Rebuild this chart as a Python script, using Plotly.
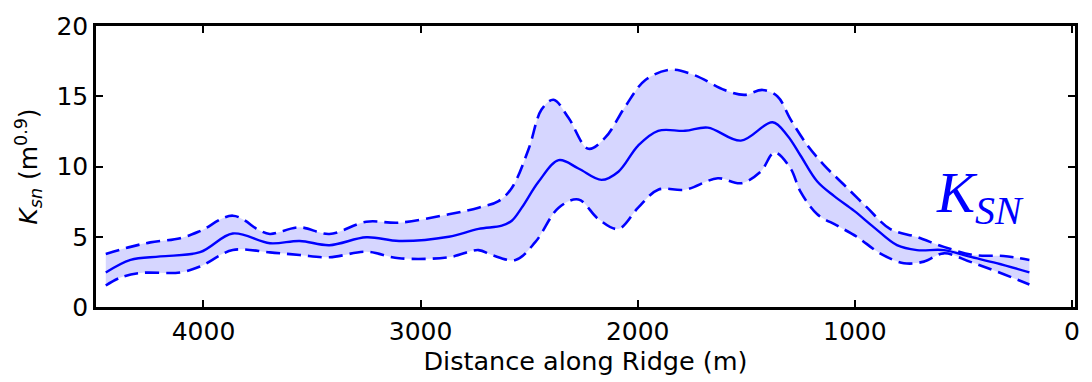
import plotly.graph_objects as go

# Mean K_sn profile
dist_mean = [4450, 4336, 4199, 4016, 3865, 3694, 3557, 3420, 3250, 3099, 2870, 2733, 2626,
             2580, 2534, 2456, 2364, 2273, 2167, 2089, 1998, 1906, 1782, 1677, 1525, 1379, 1310,
             1251, 1173, 1095, 1003, 912, 806, 714, 590, 471, 347, 196]
ksn_mean = [2.45, 3.35, 3.6, 3.9, 5.23, 4.54, 4.7, 4.4, 4.96, 4.7, 5.0, 5.56, 5.79,
            6.14, 7.07, 8.93, 10.45, 9.86, 9.05, 9.63, 11.49, 12.54, 12.54, 12.77, 11.84, 13.15, 12.19,
            10.8, 8.93, 7.89, 6.84, 5.67, 4.4, 4.05, 4.05, 3.58, 3.12, 2.46]

# Upper bound
dist_upper = [4450, 4336, 4245, 4107, 4016, 3865, 3741, 3694, 3557, 3420, 3250, 3099, 2870,
              2733, 2641, 2580, 2502, 2443, 2388, 2319, 2227, 2149, 2057, 1966, 1847, 1737,
              1600, 1508, 1425, 1356, 1296, 1218, 1142, 1050, 943, 838, 714, 590, 453, 315, 196]
ksn_upper = [3.77, 4.28, 4.6, 4.9, 5.4, 6.5, 5.44, 5.2, 5.67, 5.2, 6.07, 6.0, 6.6,
             7.07, 7.54, 8.47, 11.26, 14.05, 14.75, 13.47, 11.26, 12.07, 14.28, 16.14, 16.89, 16.49,
             15.44, 15.1, 15.45, 14.98, 13.35, 11.5, 10.1, 8.7, 7.07, 5.56, 4.98, 4.28, 3.7, 3.63, 3.35]

# Lower bound
dist_lower = [4450, 4382, 4290, 4107, 4016, 3865, 3694, 3557, 3420, 3250, 3099, 2870, 2733,
              2673, 2563, 2471, 2364, 2273, 2181, 2089, 1998, 1906, 1782, 1631, 1525, 1434,
              1370, 1296, 1251, 1173, 1081, 989, 884, 774, 682, 590, 471, 347, 196]
ksn_lower = [1.53, 2.1, 2.42, 2.46, 2.88, 4.05, 3.89, 3.7, 3.54, 3.93, 3.47, 3.54, 4.05,
             3.7, 3.35, 4.63, 7.07, 7.65, 6.26, 5.56, 7.07, 8.35, 8.35, 9.16, 8.81, 9.63,
             11.0, 9.86, 8.23, 6.6, 5.79, 4.98, 3.82, 3.12, 3.23, 3.82, 3.23, 2.53, 1.6]

x_ticks = [4000, 3000, 2000, 1000, 0]
y_ticks = [0, 5, 10, 15, 20]

BLUE = "#0000ff"
FILL = "rgba(0,0,255,0.16)"

fig = go.Figure()
fig.add_trace(go.Scatter(x=dist_lower, y=ksn_lower, mode="lines",
                         line=dict(color="rgba(0,0,0,0)", width=0, shape="spline"),
                         hoverinfo="skip", showlegend=False))
fig.add_trace(go.Scatter(x=dist_upper, y=ksn_upper, mode="lines", fill="tonexty",
                         fillcolor=FILL,
                         line=dict(color="rgba(0,0,0,0)", width=0, shape="spline"),
                         hoverinfo="skip", showlegend=False))
fig.add_trace(go.Scatter(x=dist_upper, y=ksn_upper, mode="lines",
                         line=dict(color=BLUE, width=2.6, dash="14px,7px", shape="spline"),
                         showlegend=False))
fig.add_trace(go.Scatter(x=dist_lower, y=ksn_lower, mode="lines",
                         line=dict(color=BLUE, width=2.6, dash="14px,7px", shape="spline"),
                         showlegend=False))
fig.add_trace(go.Scatter(x=dist_mean, y=ksn_mean, mode="lines",
                         line=dict(color=BLUE, width=2.4, shape="spline"),
                         showlegend=False))

axis_common = dict(showline=True, linecolor="black", linewidth=2.5, mirror="allticks",
                   ticks="inside", ticklen=7, tickwidth=1.5, tickcolor="black",
                   showgrid=False, zeroline=False,
                   tickfont=dict(family="DejaVu Sans", size=25, color="black"))

ytitle = ("<i>K</i><sub><i>sn</i></sub> (m<sup>0.9</sup>)")

fig.update_layout(
    width=1092, height=382,
    margin=dict(l=96, r=14, t=22, b=74),
    paper_bgcolor="white", plot_bgcolor="white",
    xaxis=dict(range=[4495, -14], tickvals=x_ticks, ticktext=[str(v) for v in x_ticks],
               title=dict(text="Distance along Ridge (m)", standoff=6,
                          font=dict(family="DejaVu Sans", size=25.5, color="black")),
               **axis_common),
    yaxis=dict(range=[0, 20], tickvals=y_ticks, ticktext=[str(v) for v in y_ticks],
               title=dict(text=ytitle, standoff=12,
                          font=dict(family="DejaVu Sans", size=25, color="black")),
               **axis_common),
    annotations=[dict(x=0.856, y=0.39, xref="paper", yref="paper",
                      xanchor="left", yanchor="middle",
                      text="<i>K</i><sub><i>SN</i></sub>", showarrow=False,
                      font=dict(family="Liberation Serif", size=57, color=BLUE))],
)

fig.write_html("out.html")
